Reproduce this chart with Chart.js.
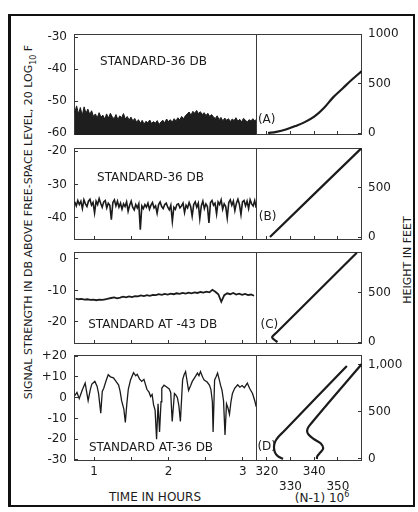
<!DOCTYPE html>
<html>
<head>
<meta charset="utf-8">
<script src="https://cdn.jsdelivr.net/npm/chart.js@4.4.0/dist/chart.umd.min.js"></script>
<style>
html, body { margin: 0; padding: 0; background: #fff; }
body { width: 418px; height: 512px; position: relative; overflow: hidden; font-family: "DejaVu Sans", sans-serif; color: #1b1b1b; }
.frame { position: absolute; left: 8px; top: 14px; width: 402px; height: 489px; border: 2px solid #111; border-left-width: 3px; }
canvas { position: absolute; }
.vt { position: absolute; white-space: nowrap; transform: translate(-50%, -50%) rotate(-90deg); font-size: 11px; }
.lbl { position: absolute; white-space: nowrap; font-size: 12px; transform: translate(-50%, -50%); }
sub, sup { font-size: 8px; }
</style>
</head>
<body>
<div class="frame"></div>
<div class="vt" style="left:30px; top:222px">SIGNAL STRENGTH IN DB ABOVE FREE-SPACE LEVEL, 20 LOG<sub>10</sub> F</div>
<div class="vt" style="left:407px; top:260px">HEIGHT IN FEET</div>
<div class="lbl" style="left:155px; top:497px">TIME IN HOURS</div>
<div class="lbl" style="left:322px; top:497px">(N-1) 10<sup>6</sup></div>

<script>
// Time axis (hours)
const timeMin = 0.73;
const timeMax = 3.19;
const timeTicks = [1, 1.5, 2, 2.5, 3];
const timeTickLabels = ['1', '', '2', '', '3'];

// Refractivity axis (N-1) x 10^6
const nMin = 315.4;
const nMax = 360.2;
const nTicks = [320, 330, 340, 350];
const nTickLabels = [['320'], ['', '330'], ['340'], ['', '350']];

// Panel A - signal level (evenly sampled from 0.74 h)
const aStart = 0.74, aStep = 0.0252;
const aLevel = [
  -53.5, -51.5, -54, -52, -54.5, -51.8, -53.8, -52.5, -54.2, -53, -54.8,
  -54, -55.2, -53.6, -55, -54.4, -55.6, -54, -55.3, -53.8, -54.9, -55.5, -54.2, -55.8, -54.6, -55.2, -53.9, -55.6, -54.8, -55.9, -55,
  -56.2, -55.4, -56.6, -55.8, -56.9, -56, -57.2, -56.3, -56.8, -55.9, -57, -56.4, -56.9, -56.1, -57.3, -56.5, -56, -56.8, -55.6, -56.4, -55.8, -56.6, -55.5, -56.2, -55.2, -55.9, -54.8, -55.5,
  -54.6, -54, -53.4, -54.4, -53.2, -53.8, -52.9, -53.9, -53.3, -54.2, -53.6, -54.5, -53.8, -54.8, -54.2, -55,
  -55.4, -54.6, -55.8, -55.1, -56.2, -55.3, -56, -55.5, -56.4, -55.6, -56.1, -55.2, -56.3, -55.7, -56.5, -55.4, -55.9, -56.6, -55.8, -56.2, -55.5, -56.1, -55.8
];
const aTicks = [-30, -40, -50, -60];
const aTickLabels = ['-30', '-40', '-50', '-60'];
// Panel A - refractivity profile
const aProfileN = [320.5, 324, 328, 332, 336, 340, 344, 348, 352, 356, 360.1];
const aProfileH = [0, 12, 35, 70, 110, 165, 250, 360, 450, 540, 625];

// Panel B
const bStart = 0.74, bStep = 0.0205;
const bLevel = [
  -35.2, -36.4, -34.8, -36.0, -35.0, -37.2, -34.6, -35.8, -36.6, -35.0,
  -34.4, -36.2, -35.4, -38.5, -35.0, -36.0, -34.2, -35.6, -36.8, -35.2,
  -34.8, -37.0, -35.6, -36.2, -40.5, -35.4, -34.6, -36.4, -35.0, -36.8,
  -35.6, -37.4, -35.8, -36.6, -35.2, -38.0, -36.2, -35.0, -36.8, -37.6,
  -36.0, -37.0, -35.8, -43.5, -36.4, -37.2, -36.0, -36.8, -35.6, -37.4,
  -36.2, -35.4, -37.0, -36.4, -38.6, -36.0, -35.2, -36.6, -37.2, -36.0,
  -35.6, -36.8, -37.6, -36.2, -41.0, -36.8, -37.4, -36.0, -35.8, -37.0,
  -36.4, -35.6, -38.4, -36.2, -37.0, -35.4, -36.6, -39.5, -36.0, -35.2,
  -36.8, -35.6, -40.2, -36.4, -35.0, -37.2, -35.8, -36.6, -41.5, -35.4,
  -34.8, -36.2, -35.6, -38.8, -35.2, -36.0, -34.6, -37.4, -35.8, -36.6,
  -40.0, -35.4, -34.6, -36.2, -35.0, -37.8, -35.6, -34.4, -36.0, -39.0,
  -35.2, -34.8, -36.4, -35.0, -37.2, -34.6, -35.8, -36.4, -34.8, -37.0
];
const bTicks = [-20, -30, -40];
const bTickLabels = ['-20', '-30', '-40'];
const bProfileN = [321.3, 359.9];
const bProfileH = [0, 905];

// Panel C
const cStart = 0.75, cStep = 0.04;
const cLevel = [
  -12.6, -12.8, -12.7, -12.9, -12.8, -13.0, -12.9, -13.1, -12.9, -13.0, -12.8,
  -12.6, -12.4, -12.2, -12.5, -12.3, -12.0, -12.2, -11.9, -12.1, -11.8,
  -11.9, -11.6, -11.8, -11.5, -11.7, -11.4, -11.5, -11.2, -11.4, -11.1,
  -11.3, -11.0, -11.2, -10.9, -11.1, -10.8, -11.0, -10.7, -10.9, -10.6,
  -10.8, -10.5, -10.7, -10.4, -10.6, -9.8, -10.4, -11.2, -13.6, -11.5,
  -10.9, -11.2, -10.8, -11.3, -11.0, -11.4, -11.1, -11.5, -11.3, -11.7
];
const cTicks = [0, -10, -20];
const cTickLabels = ['0', '-10', '-20'];
const cProfileN = [324.5, 323.0, 322.2, 324.0, 358.0];
const cProfileH = [0, 25, 50, 95, 910];

// Panel D
const dTime = [
  0.74, 0.77, 0.80, 0.84, 0.88, 0.92, 0.95, 0.97, 1.01, 1.04,
  1.06, 1.09, 1.11, 1.13, 1.16, 1.19, 1.22, 1.26, 1.29, 1.33,
  1.35, 1.37, 1.40, 1.42, 1.44, 1.46, 1.49, 1.53, 1.56, 1.58,
  1.61, 1.64, 1.67, 1.71, 1.74, 1.76, 1.78, 1.80, 1.82, 1.84,
  1.86, 1.88, 1.90, 1.91, 1.94, 1.98, 2.01, 2.03, 2.05, 2.08,
  2.10, 2.12, 2.14, 2.16, 2.19, 2.21, 2.23, 2.25, 2.27, 2.30,
  2.32, 2.35, 2.39, 2.41, 2.43, 2.46, 2.48, 2.52, 2.55, 2.57,
  2.59, 2.60, 2.62, 2.64, 2.66, 2.68, 2.70, 2.72, 2.74, 2.76,
  2.78, 2.80, 2.82, 2.84, 2.86, 2.89, 2.93, 2.96, 2.99, 3.02,
  3.06, 3.09, 3.13, 3.16, 3.18
];
const dLevel = [
  1.0, 2.5, -0.5, 3.5, 7.0, -1.5, 4.0, 6.5, 7.8, 5.5,
  2.0, -7.5, 3.0, 4.5, 8.0, 11.0, 10.0, 9.5, 8.0, 6.0,
  3.0, -1.5, -5.5, -12.0, -3.0, 4.0, 8.5, 12.0, 10.5, 11.2,
  9.0, 7.8, 8.8, 4.0, 2.5, 0.5, 1.5, -3.5, -6.0, -20.0,
  -3.0, -16.5, -2.0, 4.5, 6.0, 5.0, 4.2, 2.5, -11.5, 2.0,
  1.2, 0.0, -4.0, -11.5, 8.5, 11.0, 12.5, 8.0, 3.5, 6.0,
  7.8, 9.5, 11.8, 10.5, 12.5, 9.8, 8.5, 7.5, 6.0, 4.0,
  -2.0, -16.5, 8.5, 10.0, 11.8, 9.0, 6.0, 3.5, -1.5, -18.0,
  -3.0, -5.0, -8.0, -2.0, 2.0, 4.5, 6.2, 5.0, 5.8, 4.8,
  7.0, 4.5, 2.0, -1.5, -4.5
];
const dTicks = [20, 10, 0, -10, -20, -30];
const dTickLabels = ['+20', '+10', '0', '-10', '-20', '-30'];
const d1ProfileN = [326.8, 324.6, 323.4, 323.0, 323.6, 325.0, 327.0, 353.8];
const d1ProfileH = [0, 30, 70, 130, 190, 240, 290, 990];
const d2ProfileN = [341.1, 341.3, 342.6, 343.8, 342.8, 340.0, 337.6, 337.0, 337.8, 360.1];
const d2ProfileH = [0, 30, 70, 115, 165, 210, 260, 300, 350, 1010];

const heightTicksA = [0, 500, 1000];
const heightLabelsA = ['0', '500', '1000'];
const heightTicksBC = [0, 500];
const heightLabelsBC = ['0', '500'];
const heightTicksD = [0, 500, 1000];
const heightLabelsD = ['0', '500', '1,000'];

const ink = '#1b1b1b';

Chart.defaults.font.family = '"DejaVu Sans", sans-serif';
Chart.defaults.font.size = 12;
Chart.defaults.color = ink;
Chart.defaults.animation = false;

// helpers to turn arrays into points
const sampled = (start, step, vals) => vals.map((v, i) => ({ x: start + i * step, y: v }));
const paired = (xs, ys) => xs.map((x, i) => ({ x: x, y: ys[i] }));

const boxPlugin = {
    id: 'panelBox',
    beforeDatasetsDraw(chart) {
        const { ctx, chartArea: a } = chart;
        ctx.save();
        ctx.strokeStyle = '#3a3a3a';
        ctx.lineWidth = 1;
        ctx.strokeRect(a.left + 0.5, a.top + 0.5, a.width - 1, a.height - 1);
        ctx.restore();
    }
};

function notesPlugin(notes) {
    return {
        id: 'panelNotes',
        afterDatasetsDraw(chart) {
            const { ctx, scales } = chart;
            ctx.save();
            ctx.fillStyle = ink;
            ctx.font = '12px "DejaVu Sans", sans-serif';
            ctx.textBaseline = 'middle';
            notes.forEach(n => {
                ctx.fillText(n.text, scales.x.getPixelForValue(n.x), scales.y.getPixelForValue(n.y));
            });
            ctx.restore();
        }
    };
}

// Build one panel as its own chart; box = [left, right, top, bottom] of the plot area
function panel(p) {
    const [x0, x1, y0, y1] = p.box;
    const padT = 10, padB = 4, sidePad = 4;
    const axisW = p.side === 'left' ? 46 : 52;
    const xAxisH = p.xLabels ? 36 : 0;
    const w = (x1 - x0) + axisW + sidePad;
    const h = padT + (y1 - y0) + xAxisH + padB;

    const canvas = document.createElement('canvas');
    canvas.width = w;
    canvas.height = h;
    canvas.style.width = w + 'px';
    canvas.style.height = h + 'px';
    canvas.style.left = (p.side === 'left' ? x0 - axisW : x0 - sidePad) + 'px';
    canvas.style.top = (y0 - padT) + 'px';
    document.body.appendChild(canvas);

    const tickGrid = { drawOnChartArea: false, drawTicks: true, tickLength: -4, color: '#333', lineWidth: 1 };

    return new Chart(canvas.getContext('2d'), {
        type: 'line',
        data: { datasets: p.datasets },
        options: {
            responsive: false,
            animation: false,
            layout: {
                padding: {
                    top: padT, bottom: padB,
                    left: p.side === 'left' ? 0 : sidePad,
                    right: p.side === 'left' ? sidePad : 0
                }
            },
            plugins: { legend: { display: false }, tooltip: { enabled: false } },
            elements: { point: { radius: 0 } },
            scales: {
                x: {
                    type: 'linear', position: 'bottom', min: p.xMin, max: p.xMax,
                    afterBuildTicks: s => { s.ticks = p.xTicks.map(v => ({ value: v })); },
                    afterFit: s => { s.height = xAxisH; s.paddingLeft = 0; s.paddingRight = 0; },
                    grid: tickGrid,
                    border: { display: false },
                    ticks: {
                        display: !!p.xLabels, padding: 8, autoSkip: false, maxRotation: 0,
                        callback: v => p.xLabels ? p.xLabels[p.xTicks.indexOf(v)] : ''
                    }
                },
                y: {
                    type: 'linear', position: p.side, min: p.yMin, max: p.yMax,
                    afterBuildTicks: s => { s.ticks = p.yTicks.map(v => ({ value: v })); },
                    afterFit: s => { s.width = axisW; s.paddingTop = 0; s.paddingBottom = 0; },
                    grid: tickGrid,
                    border: { display: false },
                    ticks: {
                        padding: p.side === 'left' ? 11 : 10, autoSkip: false,
                        callback: v => p.yLabels[p.yTicks.indexOf(v)]
                    }
                }
            }
        },
        plugins: [boxPlugin, notesPlugin(p.notes)]
    });
}

const lineStyle = (w) => ({ borderColor: ink, backgroundColor: ink, borderWidth: w, pointRadius: 0, fill: false });
const profileStyle = { borderColor: ink, borderWidth: 2.2, pointRadius: 0, tension: 0.35, fill: false };

const leftX = { xMin: timeMin, xMax: timeMax, xTicks: timeTicks };
const rightX = { xMin: nMin, xMax: nMax, xTicks: nTicks };

// Row A
panel({ ...leftX, box: [74, 257, 34, 135], side: 'left', yMin: -60.6, yMax: -29, yTicks: aTicks, yLabels: aTickLabels,
    datasets: [{ data: sampled(aStart, aStep, aLevel), ...lineStyle(1), fill: 'start', backgroundColor: '#1e1e1e' }],
    notes: [{ text: 'STANDARD-36 DB', x: 1.08, y: -37.8 }] });
panel({ ...rightX, box: [256, 362, 34, 135], side: 'right', yMin: -20, yMax: 1000, yTicks: heightTicksA, yLabels: heightLabelsA,
    datasets: [{ data: paired(aProfileN, aProfileH), ...profileStyle }],
    notes: [{ text: '(A)', x: 316.2, y: 132 }] });

// Row B
panel({ ...leftX, box: [74, 257, 148, 240], side: 'left', yMin: -46.6, yMax: -19.1, yTicks: bTicks, yLabels: bTickLabels,
    datasets: [{ data: sampled(bStart, bStep, bLevel), ...lineStyle(1.6) }],
    notes: [{ text: 'STANDARD-36 DB', x: 1.04, y: -28.1 }] });
panel({ ...rightX, box: [256, 362, 148, 240], side: 'right', yMin: -30.6, yMax: 908, yTicks: heightTicksBC, yLabels: heightLabelsBC,
    datasets: [{ data: paired(bProfileN, bProfileH), ...profileStyle }],
    notes: [{ text: '(B)', x: 316.6, y: 204 }] });

// Row C
panel({ ...leftX, box: [74, 257, 252, 344], side: 'left', yMin: -27, yMax: 2.2, yTicks: cTicks, yLabels: cTickLabels,
    datasets: [{ data: sampled(cStart, cStep, cLevel), ...lineStyle(1.8) }],
    notes: [{ text: 'STANDARD AT -43 DB', x: 0.92, y: -21.0 }] });
panel({ ...rightX, box: [256, 362, 252, 344], side: 'right', yMin: -20.4, yMax: 918, yTicks: heightTicksBC, yLabels: heightLabelsBC,
    datasets: [{ data: paired(cProfileN, cProfileH), ...profileStyle }],
    notes: [{ text: '(C)', x: 317.3, y: 175 }] });

// Row D (with axis labels)
panel({ ...leftX, box: [74, 257, 355, 461], side: 'left', yMin: -30.5, yMax: 20.5, yTicks: dTicks, yLabels: dTickLabels,
    xLabels: timeTickLabels,
    datasets: [{ data: paired(dTime, dLevel), ...lineStyle(1.3) }],
    notes: [{ text: 'STANDARD AT-36 DB', x: 0.93, y: -24.2 }] });
panel({ ...rightX, box: [256, 362, 355, 461], side: 'right', yMin: -21.3, yMax: 1106, yTicks: heightTicksD, yLabels: heightLabelsD,
    xLabels: nTickLabels,
    datasets: [
        { data: paired(d1ProfileN, d1ProfileH), ...profileStyle },
        { data: paired(d2ProfileN, d2ProfileH), ...profileStyle }
    ],
    notes: [{ text: '(D)', x: 316.0, y: 128 }] });
</script>
</body>
</html>
